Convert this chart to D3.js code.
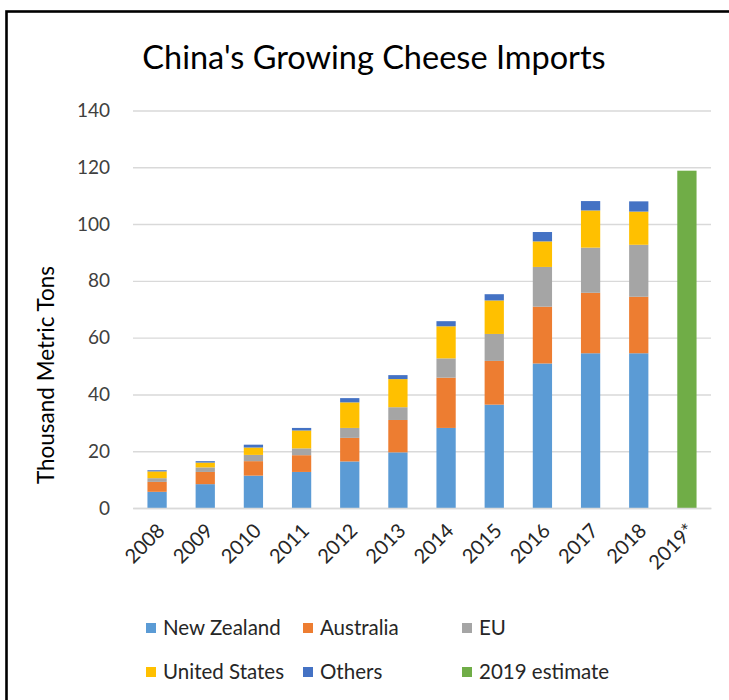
<!DOCTYPE html>
<html>
<head>
<meta charset="utf-8">
<script src="https://cdn.jsdelivr.net/npm/d3@7"></script>
<style>
  html, body { margin: 0; padding: 0; background: #fff; }
  svg { display: block; font-family: Lato, "Open Sans", sans-serif; }
</style>
</head>
<body>
<svg id="chart" width="729" height="700"></svg>
<script>
// Chinese cheese imports by origin, thousand metric tons
const years = ["2008", "2009", "2010", "2011", "2012", "2013", "2014", "2015", "2016", "2017", "2018", "2019*"];
const seriesNames = ["New Zealand", "Australia", "EU", "United States", "Others"];
const newZealand   = [5.7, 8.4, 11.4, 12.7, 16.4, 19.6, 28.2, 36.4, 50.9, 54.5, 54.5, 0];
const australia    = [3.5, 4.3, 5.1, 5.9, 8.3, 11.4, 17.7, 15.4, 20.0, 21.3, 19.9, 0];
const eu           = [1.3, 1.6, 2.2, 2.4, 3.5, 4.5, 6.8, 9.5, 14.0, 15.9, 18.3, 0];
const unitedStates = [2.4, 1.7, 2.6, 6.3, 9.0, 9.9, 11.3, 11.8, 9.0, 13.1, 11.7, 0];
const others       = [0.4, 0.5, 1.0, 0.9, 1.5, 1.4, 1.8, 2.2, 3.3, 3.3, 3.6, 0];
const estimateName = "2019 estimate";
const estimate2019 = [0, 0, 0, 0, 0, 0, 0, 0, 0, 0, 0, 118.8];
const yTicks = [0, 20, 40, 60, 80, 100, 120, 140];

const colors = {
  "New Zealand": "#5B9BD5",
  "Australia": "#ED7D31",
  "EU": "#A5A5A5",
  "United States": "#FFC000",
  "Others": "#4472C4",
  "2019 estimate": "#70AD47"
};

const seriesValues = [newZealand, australia, eu, unitedStates, others];
const rows = years.map((y, i) => {
  const r = { year: y };
  seriesNames.forEach((n, k) => { r[n] = seriesValues[k][i]; });
  r[estimateName] = estimate2019[i];
  return r;
});

const svg = d3.select("#chart");

// outer frame (runs off the right and bottom edges)
svg.append("rect")
  .attr("x", 6.5).attr("y", 11.5)
  .attr("width", 740).attr("height", 720)
  .attr("fill", "none").attr("stroke", "#000").attr("stroke-width", 2.6);

const x = d3.scaleBand().domain(years).range([133, 711]).paddingInner(0.6).paddingOuter(0.3);
const y = d3.scaleLinear().domain([0, 140]).range([508, 110.5]);

// gridlines and y tick labels
const yAxis = d3.axisLeft(y).tickValues(yTicks).tickSize(-(711 - 133)).tickPadding(23);
const gy = svg.append("g").attr("transform", "translate(133,0)").call(yAxis);
gy.select(".domain").remove();
gy.selectAll(".tick line").attr("stroke", "#d9d9d9").attr("stroke-width", 1.4);
gy.selectAll(".tick text").attr("fill", "#404040").style("font-size", "19px").style("font-family", "Lato");

// stacked bars
const stack = d3.stack().keys([...seriesNames, estimateName]);
const layers = stack(rows);
svg.append("g").selectAll("g")
  .data(layers)
  .join("g")
  .attr("fill", d => colors[d.key])
  .selectAll("rect")
  .data(d => d.filter(p => p[1] - p[0] > 0))
  .join("rect")
  .attr("x", d => x(d.data.year))
  .attr("width", x.bandwidth())
  .attr("y", d => y(d[1]))
  .attr("height", d => y(d[0]) - y(d[1]));

// x axis line and rotated year labels
const xAxis = d3.axisBottom(x).tickSize(0).tickPadding(0);
const gx = svg.append("g").attr("transform", "translate(0,508)").call(xAxis);
gx.select(".domain").attr("stroke", "#d9d9d9").attr("stroke-width", 1.4);
gx.selectAll(".tick text")
  .attr("fill", "#262626")
  .style("font-size", "20px").style("font-family", "Lato")
  .attr("text-anchor", "end")
  .attr("dy", "0.35em")
  .attr("transform", "translate(4,19) rotate(-45)")
  .attr("y", 0);

// title
svg.append("text")
  .attr("x", 374).attr("y", 69)
  .attr("text-anchor", "middle")
  .attr("fill", "#000")
  .style("font-size", "32.5px")
  .text("China's Growing Cheese Imports");

// y axis title
svg.append("text")
  .attr("transform", "translate(54,375) rotate(-90)")
  .attr("text-anchor", "middle")
  .attr("fill", "#000")
  .style("font-size", "22.5px")
  .text("Thousand Metric Tons");

// legend
const legendItems = [
  { name: "New Zealand", col: 0, row: 0 },
  { name: "Australia", col: 1, row: 0 },
  { name: "EU", col: 2, row: 0 },
  { name: "United States", col: 0, row: 1 },
  { name: "Others", col: 1, row: 1 },
  { name: estimateName, col: 2, row: 1 }
];
const colX = [146, 303, 462];
const rowY = [628, 672];
const lg = svg.append("g").selectAll("g").data(legendItems).join("g")
  .attr("transform", d => `translate(${colX[d.col]},${rowY[d.row]})`);
lg.append("rect").attr("x", 0).attr("y", -5).attr("width", 10).attr("height", 10)
  .attr("fill", d => colors[d.name]);
lg.append("text").attr("x", 17).attr("y", 0).attr("dy", "0.35em")
  .attr("fill", "#262626").style("font-size", "20.5px")
  .text(d => d.name);
</script>
</body>
</html>
